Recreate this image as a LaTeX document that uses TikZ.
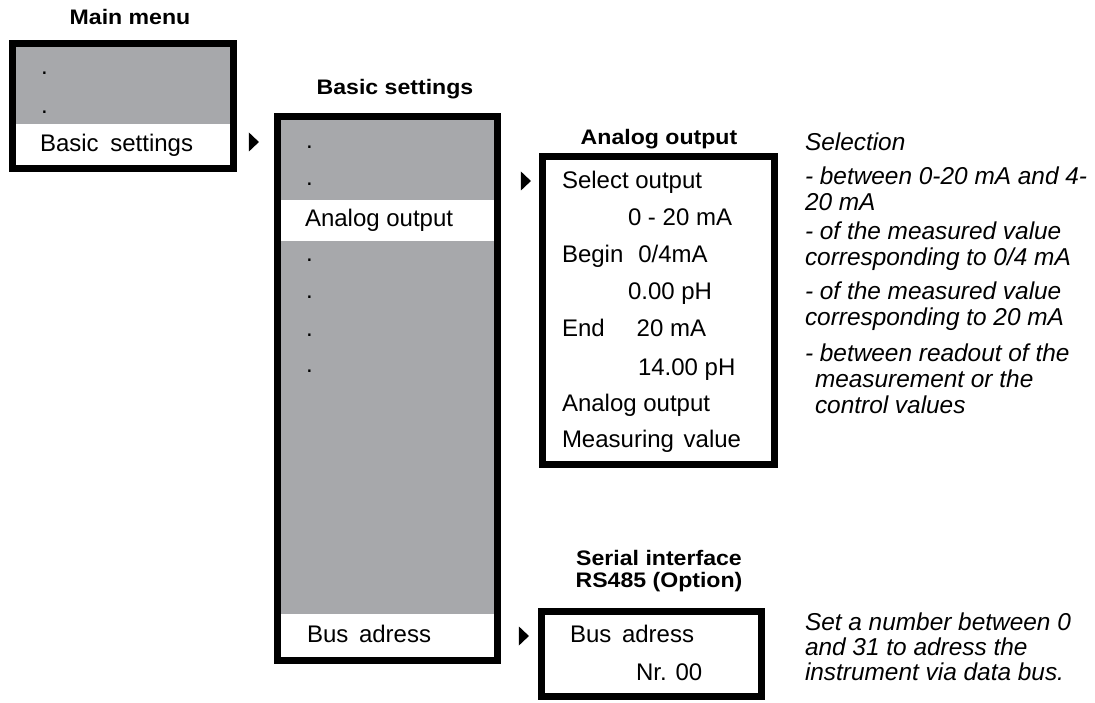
\documentclass[tikz,border=0pt]{standalone}
\usepackage{fontspec}
\setmainfont{Liberation Sans}
\newfontfamily\headfont{Liberation Sans}[FakeStretch=1.1]
\usepackage{xcolor}
\usepackage{tikz}
\usetikzlibrary{shapes.geometric}
\usetikzlibrary{positioning}
\definecolor{menugray}{RGB}{167,168,171}

\begin{document}
\begin{tikzpicture}[x=1pt,y=-1pt]
        \tikzstyle{every node}=[inner sep=0pt,outer sep=0pt]
        \tikzstyle{frame}=[draw=black,line width=7pt]
        \tikzstyle{title}=[anchor=base,font=\headfont\bfseries\fontsize{21}{24}\selectfont]
        \tikzstyle{entry}=[anchor=base west,font=\fontsize{24}{28}\selectfont]
        \tikzstyle{note}=[anchor=base west,font=\itshape\fontsize{24.4}{28}\selectfont]
        \tikzstyle{pointer}=[isosceles triangle,isosceles triangle stretches,fill=black,
          minimum width=19pt,minimum height=10pt]
        \useasboundingbox (0,0) rectangle (1095,703);
        % main menu
        \fill[menugray] (16,47) rectangle (230,124);
        \fill[white] (16,124) rectangle (230,165);
        \draw[frame] (12.5,43.5) rectangle (233.5,168.5);
        \node[title] (mainmenu) at (130,25) {Main menu};
        \node[entry] (mdot1) at (41,75) {.};
        \node[entry] (mdot2) at (41,114) {.};
        \node[entry] (mbasic) at (40,152) {Basic\hspace{5pt} settings};
        \node[pointer] (pbasic) at (253,142) {};
        % basic settings
        \fill[menugray] (281,120) rectangle (494,657);
        \fill[white] (281,200) rectangle (494,241);
        \fill[white] (281,614) rectangle (494,657);
        \draw[frame] (277.5,116.5) rectangle (497.5,660.5);
        \node[title] (basic) at (395,95) {Basic settings};
        \foreach \y [count=\i] in {149,186,262,299,336,372}
          \node[entry] (bdot\i) at (306,\y) {.};
        \node[entry] (banalog) at (305,227) {Analog output};
        \node[entry] (bbus) at (307,642) {Bus\hspace{4pt} adress};
        \node[pointer] (panalog) at (525,181) {};
        \node[pointer] (pbus) at (523,636) {};
        % analog output
        \draw[frame] (542.5,156.5) rectangle (774.5,464.5);
        \node[title] (analog) at (659,145) {Analog output};
        \node[entry] (aselect) at (562,189) {Select output};
        \node[entry] (arange) at (628,226) {0 - 20 mA};
        \node[entry] (abegin) at (562,263) {Begin\hspace{15pt}0/4mA};
        \node[entry] (abeginph) at (628,300) {0.00 pH};
        \node[entry] (aend) at (562,337) {End\hspace{32pt}20 mA};
        \node[entry] (aendph) at (638,375) {14.00 pH};
        \node[entry] (amode) at (562,411) {Analog output};
        \node[entry] (avalue) at (562,447) {Measuring\hspace{3pt} value};
        % serial interface
        \draw[frame] (541.5,611.5) rectangle (761.5,696.5);
        \node[title] (serial) at (659,565) {Serial interface};
        \node[title] (serialopt) at (659,587) {RS485 (Option)};
        \node[entry] (sbus) at (570,642) {Bus\hspace{4pt} adress};
        \node[entry] (snr) at (636,680) {Nr. 00};
        % notes
        \node[note] (nsel) at (805,151) {Selection};
        \node[note] (nrange1) at (805,185) {- between 0-20 mA and 4-};
        \node[note] (nrange2) at (805,211) {20 mA};
        \node[note] (nbegin1) at (805,240) {- of the measured value};
        \node[note] (nbegin2) at (805,266) {corresponding to 0/4 mA};
        \node[note] (nend1) at (805,300) {- of the measured value};
        \node[note] (nend2) at (805,326) {corresponding to 20 mA};
        \node[note] (nmode1) at (805,361) {- between readout of the};
        \node[note] (nmode2) at (815,387) {measurement or the};
        \node[note] (nmode3) at (815,413) {control values};
        \node[note] (nbus1) at (805,630) {Set a number between 0};
        \node[note] (nbus2) at (805,655) {and 31 to adress the};
        \node[note] (nbus3) at (805,680) {instrument via data bus.};
\end{tikzpicture}
\end{document}
